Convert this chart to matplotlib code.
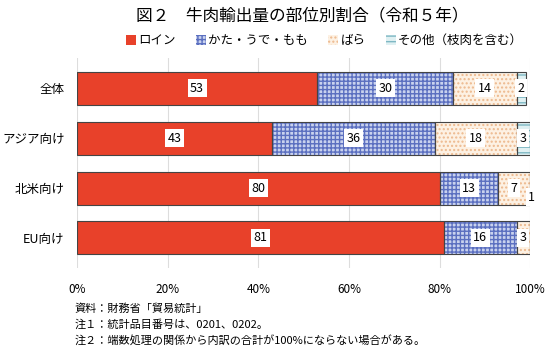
import numpy as np
import matplotlib.pyplot as plt

plt.rcParams['font.family'] = ['Noto Sans CJK JP', 'DejaVu Sans']

regions = ['全体', 'アジア向け', '北米向け', 'EU向け']
parts = ['ロイン', 'かた・うで・もも', 'ばら', 'その他（枝肉を含む）']
loin = [53, 43, 80, 81]
kata = [30, 36, 13, 16]
bara = [14, 18, 7, 3]
other = [2, 3, 1, 0]
xticks = [0, 20, 40, 60, 80, 100]
notes = ['資料：財務省「貿易統計」',
         '注１：統計品目番号は、0201、0202。',
         '注２：端数処理の関係から内訳の合計が100%にならない場合がある。']

series = [loin, kata, bara, other]
faces = ['#e8412a', '#c9d2ee', '#fdf1e3', '#dff0f2']
hatches = [None, '++++', '....', '---']
hcols = ['#e8412a', '#5b6fc0', '#edb98e', '#7fb8c4']

fig = plt.figure(figsize=(5.5, 3.54), dpi=100)
ax = fig.add_axes([0.14, 0.243, 0.824, 0.593])

y = np.arange(len(regions))
left = np.zeros(len(regions))
handles = []
for k, vals in enumerate(series):
    vals = np.array(vals, dtype=float)
    b = ax.barh(y, vals, left=left, height=0.66, color=faces[k],
                hatch=hatches[k], edgecolor=hcols[k], linewidth=0, zorder=2)
    ax.barh(y, vals, left=left, height=0.66, fill=False,
            edgecolor='#444444', linewidth=0.8, zorder=3)
    handles.append(b)
    for i, v in enumerate(vals):
        if v <= 0:
            continue
        cx = left[i] + v / 2
        cy = y[i]
        if k == 3 and v < 2:
            cx, cy = 100.3, y[i] + 0.18
        elif k == 3:
            cx = min(cx, 99.4)
        ax.text(cx, cy, f'{int(v)}', ha='center', va='center', fontsize=9,
                zorder=4, bbox=dict(boxstyle='square,pad=0.2', fc='white', ec='none'))
    left += vals

ax.set_xlim(0, 100)
ax.set_ylim(3.6, -0.6)
ax.set_yticks(y)
ax.set_yticklabels(regions, fontsize=9)
ax.set_xticks(xticks)
ax.set_xticklabels([f'{t}%' for t in xticks], fontsize=8.5)
ax.tick_params(length=0)
ax.tick_params(axis='x', pad=11)
ax.tick_params(axis='y', pad=9)
ax.grid(axis='x', color='#dddddd', linewidth=0.8, zorder=0)
for s in ax.spines.values():
    s.set_visible(False)

fig.text(0.55, 0.955, '図２　牛肉輸出量の部位別割合（令和５年）', ha='center', va='center',
         fontsize=12)
fig.legend(handles, parts, loc='center', bbox_to_anchor=(0.59, 0.885), ncol=4,
           frameon=False, fontsize=9, handlelength=0.8, handleheight=0.8,
           handletextpad=0.2, columnspacing=1.6)

for j, t in enumerate(notes):
    fig.text(0.136, 0.128 - j * 0.045, t, ha='left', va='center', fontsize=8)

fig.savefig('out.png', dpi=100)
